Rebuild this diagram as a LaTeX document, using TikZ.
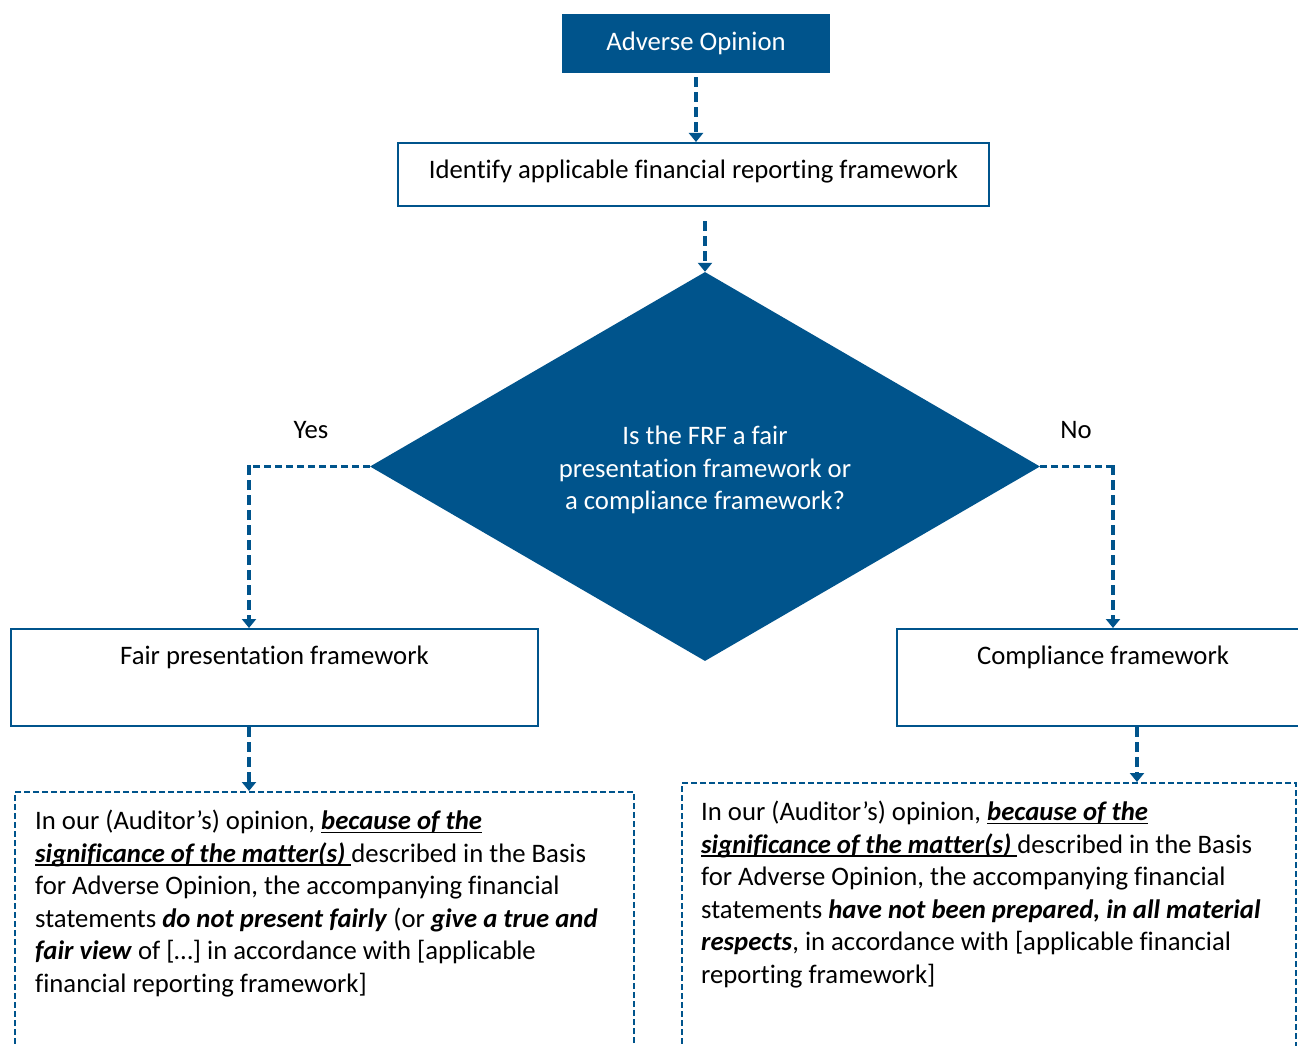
\documentclass[tikz,border=0pt]{standalone}
\usepackage{fontspec}
\setmainfont{Carlito}[Ligatures={NoCommon}]
\usetikzlibrary{shapes.geometric,arrows.meta,calc}
\definecolor{bl}{RGB}{0,84,140}
\newsavebox\ulbox
\newcommand\ulbi[1]{\sbox\ulbox{\textbf{\textit{#1}}}\rlap{\rule[-3.5pt]{\wd\ulbox}{1.6pt}}\usebox\ulbox}
\newcommand\bi[1]{\textbf{\textit{#1}}}
\begin{document}
\begin{tikzpicture}[x=1pt,y=-1pt,
  every node/.style={font=\fontsize{26.7}{32.5}\selectfont},
  solidbox/.style={draw=bl,line width=2pt,fill=white,inner sep=0pt},
  dbox/.style={draw=bl,line width=2pt,dash pattern=on 6pt off 3pt,inner sep=0pt},
  conn/.style={draw=bl,line width=3.6pt,dash pattern=on 10pt off 5pt,
    -{Triangle[width=14pt,length=9pt]}},
  hconn/.style={draw=bl,line width=2.6pt,dash pattern=on 7pt off 4pt},
  txt/.style={anchor=north west,inner sep=0pt,align=left}
]
\useasboundingbox[fill=white] (0,0) rectangle (1298,1046);

\node[fill=bl,text=white,minimum width=268,minimum height=59,inner sep=0pt] (adv) at (696,43.5) {Adverse Opinion};
\node[solidbox,minimum width=591,text height=35.5pt,text depth=27.5pt] (ident) at (693.5,174.5) {Identify applicable financial reporting framework};
\node[diamond,fill=bl,minimum width=670,minimum height=389,inner sep=0pt] (dia) at (705,466.5) {};
\node[text=white,align=center,inner sep=0pt] (dtext) at (705,470) {Is the FRF a fair\\presentation framework or\\a compliance framework?};
\node (yes) at (311,430) {Yes};
\node (no) at (1076,430) {No};

\node[solidbox,minimum width=527,text height=35pt,text depth=62pt] (fair) at (274.5,677.5) {Fair presentation framework};
\node[solidbox,minimum width=412,text height=35pt,text depth=62pt] (comp) at (1103,677.5) {Compliance framework};

\node[dbox,anchor=north west,minimum width=619,minimum height=280] (lbox) at (14,791) {};
\node[txt] (ltext) at (35,810) {In our (Auditor’s) opinion, \ulbi{because of the}\\
\ulbi{significance of the matter(s) }described in the Basis\\
for Adverse Opinion, the accompanying financial\\
statements \bi{do not present fairly} (or \bi{give a true and}\\
\bi{fair view} of […] in accordance with [applicable\\
financial reporting framework]};

\node[dbox,anchor=north west,minimum width=614,minimum height=290] (rbox) at (681,782) {};
\node[txt] (rtext) at (701,801) {In our (Auditor’s) opinion, \ulbi{because of the}\\
\ulbi{significance of the matter(s) }described in the Basis\\
for Adverse Opinion, the accompanying financial\\
statements \bi{have not been prepared, in all material}\\
\bi{respects}, in accordance with [applicable financial\\
reporting framework]};

\coordinate (fa) at ([xshift=-25.5pt]fair.north);
\coordinate (fb) at ([xshift=-25.5pt]fair.south);
\coordinate (ca) at ([xshift=10pt]comp.north);
\coordinate (cb) at ([xshift=34pt]comp.south);
\coordinate (dl) at (dia.west -| fa);
\coordinate (dr) at (dia.east -| ca);

\draw[conn,shorten <=4pt] (adv.south) -- (adv.south |- ident.north);
\draw[conn] ($(ident.south -| dia.north)+(0,14)$) -- (dia.north);
\draw[hconn] (dia.west) -- ([xshift=-1.3pt]dl);
\draw[conn] ([yshift=1.3pt]dl) -- (fa);
\draw[hconn] (dia.east) -- ([xshift=1.3pt]dr);
\draw[conn] ([yshift=1.3pt]dr) -- (ca);
\draw[conn] (fb) -- (fb |- lbox.north);
\draw[conn] (cb) -- (cb |- rbox.north);
\end{tikzpicture}
\end{document}
